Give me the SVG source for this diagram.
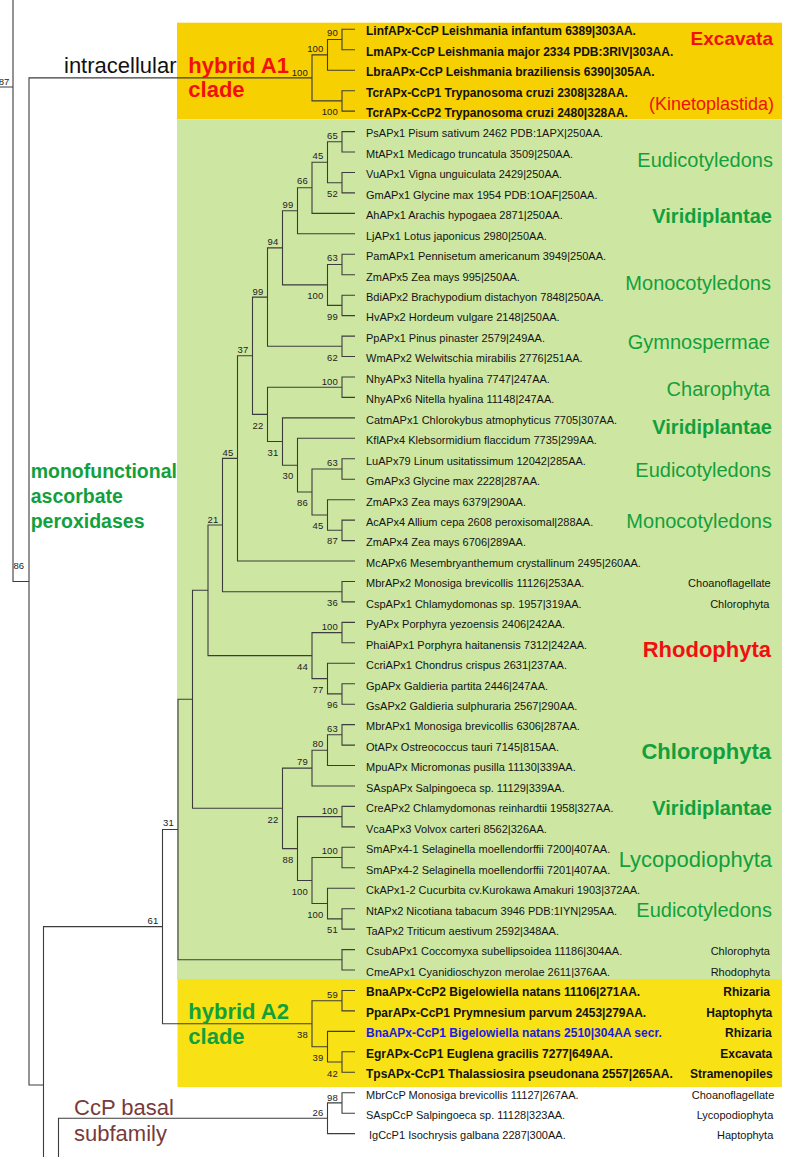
<svg xmlns="http://www.w3.org/2000/svg" width="787" height="1157" viewBox="0 0 787 1157">
<style>
text{font-family:"Liberation Sans",Arial,sans-serif}
.lf{font-size:11px;fill:#141414}
.lb{font-size:12px;font-weight:bold;fill:#111}
.bl{fill:#1a1ae6}
.bs{font-size:9.5px;text-anchor:end;fill:#222}
.rs{font-size:11px;text-anchor:end;fill:#141414}
.rb{font-size:12px;font-weight:bold;text-anchor:end;fill:#111}
.gn{fill:#12a03c;text-anchor:end;font-size:20px}
.gb{fill:#12a03c;text-anchor:end;font-size:20px;font-weight:bold}
.red{fill:#f20f0f}
.br{stroke:#3c3c3c;stroke-width:1.1;fill:none}
</style>
<rect width="787" height="1157" fill="#fff"/>
<g id="backgrounds">
<rect x="177" y="22.7" width="605" height="96.6" fill="#f6d000"/>
<rect x="177" y="119.3" width="605" height="859.7" fill="#cde7a2"/>
<rect x="177.5" y="979" width="604.5" height="108" fill="#f8e114"/>
</g>
<g id="connectors" class="br">
<path d="M355 29.3H342V49.8H355"/>
<path d="M342 39.5H327.5V70.2H355"/>
<path d="M355 90.7H342V111.1H355"/>
<path d="M327.5 54.9H312V100.9H342"/>
<path d="M355 131.6H342V152H355"/>
<path d="M355 172.5H342V192.9H355"/>
<path d="M342 141.8H327.5V182.7H342"/>
<path d="M327.5 162.2H312V213.4H355"/>
<path d="M312 187.8H297.5V233.8H355"/>
<path d="M355 254.3H342V274.7H355"/>
<path d="M355 295.2H342V315.6H355"/>
<path d="M342 264.5H327.5V305.4H342"/>
<path d="M297.5 210.8H282.5V284.9H327.5"/>
<path d="M355 336.1H342V356.5H355"/>
<path d="M282.5 247.9H267.5V346.3H342"/>
<path d="M355 377H342V397.4H355"/>
<path d="M355 458.8H342V479.2H355"/>
<path d="M355 520.1H342V540.6H355"/>
<path d="M355 499.7H327.5V530.3H342"/>
<path d="M342 469H312V515H327.5"/>
<path d="M355 438.3H297.5V492H312"/>
<path d="M355 417.9H282.5V465.2H297.5"/>
<path d="M342 387.2H267.5V441.5H282.5"/>
<path d="M267.5 297.1H252.5V414.4H267.5"/>
<path d="M252.5 355.7H237.5V561H355"/>
<path d="M355 581.5H342V601.9H355"/>
<path d="M237.5 458.4H222.5V591.7H342"/>
<path d="M355 622.4H342V642.8H355"/>
<path d="M355 683.7H342V704.2H355"/>
<path d="M355 663.3H327.5V693.9H342"/>
<path d="M342 632.6H312V678.6H327.5"/>
<path d="M222.5 525H208V655.6H312"/>
<path d="M355 724.6H342V745.1H355"/>
<path d="M342 734.8H327.5V765.5H355"/>
<path d="M327.5 750.2H312V786H355"/>
<path d="M355 806.4H342V826.9H355"/>
<path d="M355 847.3H342V867.8H355"/>
<path d="M355 908.7H342V929.1H355"/>
<path d="M355 888.2H327.5V918.9H342"/>
<path d="M342 857.5H312V903.5H327.5"/>
<path d="M342 816.6H297.5V880.5H312"/>
<path d="M312 768.1H282.5V848.6H297.5"/>
<path d="M208 590.3H192.5V808.3H282.5"/>
<path d="M355 949.6H342V970H355"/>
<path d="M192.5 699.3H178V959.8H342"/>
<path d="M355 990.5H342V1010.9H355"/>
<path d="M355 1051.8H342V1072.3H355"/>
<path d="M355 1031.4H327.5V1062H342"/>
<path d="M342 1000.7H312V1046.7H327.5"/>
<path d="M178 829.5H162.5V1023.7H312"/>
<path d="M162.5 926.6H43.5V1157"/>
<path d="M312 77.9H29V1085H43.5"/>
<path d="M0 87H13M13 0V581.5H29"/>
<path d="M355 1092.7H342V1113.2H355"/>
<path d="M342 1102.9H327.5V1133.6H355"/>
<path d="M327.5 1118.3H58.5V1157"/>
</g>
<g id="bootstrap">
<text class="bs" x="337.7" y="36.4">90</text>
<text class="bs" x="323.2" y="52.1">100</text>
<text class="bs" x="307.7" y="75.6">100</text>
<text class="bs" x="337.7" y="114.7">100</text>
<text class="bs" x="337.7" y="139.1">65</text>
<text class="bs" x="323.2" y="159.4">45</text>
<text class="bs" x="337.7" y="196.7">52</text>
<text class="bs" x="307.7" y="184.4">66</text>
<text class="bs" x="293.2" y="207.7">99</text>
<text class="bs" x="278.2" y="245.1">94</text>
<text class="bs" x="337.7" y="261.1">63</text>
<text class="bs" x="323.2" y="298.7">100</text>
<text class="bs" x="337.7" y="320.1">99</text>
<text class="bs" x="263.2" y="295.1">99</text>
<text class="bs" x="248.2" y="352.7">37</text>
<text class="bs" x="337.7" y="360.7">62</text>
<text class="bs" x="337.7" y="385.1">100</text>
<text class="bs" x="263.2" y="429.4">22</text>
<text class="bs" x="278.2" y="456.1">31</text>
<text class="bs" x="337.7" y="466.1">63</text>
<text class="bs" x="233.2" y="456.1">45</text>
<text class="bs" x="293.2" y="479.4">30</text>
<text class="bs" x="307.7" y="506.1">86</text>
<text class="bs" x="323.2" y="529.4">45</text>
<text class="bs" x="337.7" y="544.4">87</text>
<text class="bs" x="218.2" y="522.7">21</text>
<text class="bs" x="337.7" y="605.7">36</text>
<text class="bs" x="337.7" y="630.1">100</text>
<text class="bs" x="307.7" y="670.1">44</text>
<text class="bs" x="323.2" y="692.7">77</text>
<text class="bs" x="337.7" y="708.4">96</text>
<text class="bs" x="337.7" y="732.4">63</text>
<text class="bs" x="323.2" y="747.4">80</text>
<text class="bs" x="307.7" y="765.1">79</text>
<text class="bs" x="337.7" y="814.1">100</text>
<text class="bs" x="278.2" y="822.7">22</text>
<text class="bs" x="337.7" y="854.4">100</text>
<text class="bs" x="293.2" y="863.4">88</text>
<text class="bs" x="307.7" y="895.1">100</text>
<text class="bs" x="323.2" y="918.4">100</text>
<text class="bs" x="337.7" y="933.4">51</text>
<text class="bs" x="173.7" y="826.4">31</text>
<text class="bs" x="158.2" y="924.1">61</text>
<text class="bs" x="337.7" y="997.7">59</text>
<text class="bs" x="307.7" y="1038.4">38</text>
<text class="bs" x="323.2" y="1060.7">39</text>
<text class="bs" x="337.7" y="1076.7">42</text>
<text class="bs" x="337.7" y="1100.7">98</text>
<text class="bs" x="323.2" y="1115.7">26</text>
<text class="bs" x="9.3" y="85">87</text>
<text class="bs" x="24" y="569">86</text>
</g>
<g id="leaves">
<g id="leaf-LinfAPx"><text class="lb" x="366" y="35.1">LinfAPx-CcP Leishmania infantum 6389|303AA.</text></g>
<g id="leaf-LmAPx"><text class="lb" x="366" y="55.6">LmAPx-CcP Leishmania major 2334 PDB:3RIV|303AA.</text></g>
<g id="leaf-LbraAPx"><text class="lb" x="366" y="76">LbraAPx-CcP Leishmania braziliensis 6390|305AA.</text></g>
<g id="leaf-TcrAPx1"><text class="lb" x="366" y="96.5">TcrAPx-CcP1 Trypanosoma cruzi 2308|328AA.</text></g>
<g id="leaf-TcrAPx2"><text class="lb" x="366" y="116.9">TcrAPx-CcP2 Trypanosoma cruzi 2480|328AA.</text></g>
<g id="leaf-PsAPx1"><text class="lf" x="366" y="137.4">PsAPx1 Pisum sativum 2462 PDB:1APX|250AA.</text></g>
<g id="leaf-MtAPx1"><text class="lf" x="366" y="157.8">MtAPx1 Medicago truncatula 3509|250AA.</text></g>
<g id="leaf-VuAPx1"><text class="lf" x="366" y="178.3">VuAPx1 Vigna unguiculata 2429|250AA.</text></g>
<g id="leaf-GmAPx1"><text class="lf" x="366" y="198.7">GmAPx1 Glycine max 1954 PDB:1OAF|250AA.</text></g>
<g id="leaf-AhAPx1"><text class="lf" x="366" y="219.2">AhAPx1 Arachis hypogaea 2871|250AA.</text></g>
<g id="leaf-LjAPx1"><text class="lf" x="366" y="239.6">LjAPx1 Lotus japonicus 2980|250AA.</text></g>
<g id="leaf-PamAPx1"><text class="lf" x="366" y="260.1">PamAPx1 Pennisetum americanum 3949|250AA.</text></g>
<g id="leaf-ZmAPx5"><text class="lf" x="366" y="280.5">ZmAPx5 Zea mays 995|250AA.</text></g>
<g id="leaf-BdiAPx2"><text class="lf" x="366" y="301">BdiAPx2 Brachypodium distachyon 7848|250AA.</text></g>
<g id="leaf-HvAPx2"><text class="lf" x="366" y="321.4">HvAPx2 Hordeum vulgare 2148|250AA.</text></g>
<g id="leaf-PpAPx1"><text class="lf" x="366" y="341.9">PpAPx1 Pinus pinaster 2579|249AA.</text></g>
<g id="leaf-WmAPx2"><text class="lf" x="366" y="362.3">WmAPx2 Welwitschia mirabilis 2776|251AA.</text></g>
<g id="leaf-NhyAPx3"><text class="lf" x="366" y="382.8">NhyAPx3 Nitella hyalina 7747|247AA.</text></g>
<g id="leaf-NhyAPx6"><text class="lf" x="366" y="403.2">NhyAPx6 Nitella hyalina 11148|247AA.</text></g>
<g id="leaf-CatmAPx1"><text class="lf" x="366" y="423.7">CatmAPx1 Chlorokybus atmophyticus 7705|307AA.</text></g>
<g id="leaf-KflAPx4"><text class="lf" x="366" y="444.1">KflAPx4 Klebsormidium flaccidum 7735|299AA.</text></g>
<g id="leaf-LuAPx79"><text class="lf" x="366" y="464.6">LuAPx79 Linum usitatissimum 12042|285AA.</text></g>
<g id="leaf-GmAPx3"><text class="lf" x="366" y="485">GmAPx3 Glycine max 2228|287AA.</text></g>
<g id="leaf-ZmAPx3"><text class="lf" x="366" y="505.5">ZmAPx3 Zea mays 6379|290AA.</text></g>
<g id="leaf-AcAPx4"><text class="lf" x="366" y="525.9">AcAPx4 Allium cepa 2608 peroxisomal|288AA.</text></g>
<g id="leaf-ZmAPx4"><text class="lf" x="366" y="546.4">ZmAPx4 Zea mays 6706|289AA.</text></g>
<g id="leaf-McAPx6"><text class="lf" x="366" y="566.8">McAPx6 Mesembryanthemum crystallinum 2495|260AA.</text></g>
<g id="leaf-MbrAPx2"><text class="lf" x="366" y="587.3">MbrAPx2 Monosiga brevicollis 11126|253AA.</text><text class="rs" x="770.7" y="587.3">Choanoflagellate</text></g>
<g id="leaf-CspAPx1"><text class="lf" x="366" y="607.7">CspAPx1 Chlamydomonas sp. 1957|319AA.</text><text class="rs" x="769.5" y="607.7">Chlorophyta</text></g>
<g id="leaf-PyAPx"><text class="lf" x="366" y="628.2">PyAPx Porphyra yezoensis 2406|242AA.</text></g>
<g id="leaf-PhaiAPx1"><text class="lf" x="366" y="648.6">PhaiAPx1 Porphyra haitanensis 7312|242AA.</text></g>
<g id="leaf-CcriAPx1"><text class="lf" x="366" y="669.1">CcriAPx1 Chondrus crispus 2631|237AA.</text></g>
<g id="leaf-GpAPx"><text class="lf" x="366" y="689.5">GpAPx Galdieria partita 2446|247AA.</text></g>
<g id="leaf-GsAPx2"><text class="lf" x="366" y="710">GsAPx2 Galdieria sulphuraria 2567|290AA.</text></g>
<g id="leaf-MbrAPx1"><text class="lf" x="366" y="730.4">MbrAPx1 Monosiga brevicollis 6306|287AA.</text></g>
<g id="leaf-OtAPx"><text class="lf" x="366" y="750.9">OtAPx Ostreococcus tauri 7145|815AA.</text></g>
<g id="leaf-MpuAPx"><text class="lf" x="366" y="771.3">MpuAPx Micromonas pusilla 11130|339AA.</text></g>
<g id="leaf-SAspAPx"><text class="lf" x="366" y="791.8">SAspAPx Salpingoeca sp. 11129|339AA.</text></g>
<g id="leaf-CreAPx2"><text class="lf" x="366" y="812.2">CreAPx2 Chlamydomonas reinhardtii 1958|327AA.</text></g>
<g id="leaf-VcaAPx3"><text class="lf" x="366" y="832.7">VcaAPx3 Volvox carteri 8562|326AA.</text></g>
<g id="leaf-SmAPx4-1"><text class="lf" x="366" y="853.1">SmAPx4-1 Selaginella moellendorffii 7200|407AA.</text></g>
<g id="leaf-SmAPx4-2"><text class="lf" x="366" y="873.6">SmAPx4-2 Selaginella moellendorffii 7201|407AA.</text></g>
<g id="leaf-CkAPx1-2"><text class="lf" x="366" y="894">CkAPx1-2 Cucurbita cv.Kurokawa Amakuri 1903|372AA.</text></g>
<g id="leaf-NtAPx2"><text class="lf" x="366" y="914.5">NtAPx2 Nicotiana tabacum 3946 PDB:1IYN|295AA.</text></g>
<g id="leaf-TaAPx2"><text class="lf" x="366" y="934.9">TaAPx2 Triticum aestivum 2592|348AA.</text></g>
<g id="leaf-CsubAPx1"><text class="lf" x="366" y="955.4">CsubAPx1 Coccomyxa subellipsoidea 11186|304AA.</text><text class="rs" x="770" y="955.4">Chlorophyta</text></g>
<g id="leaf-CmeAPx1"><text class="lf" x="366" y="975.8">CmeAPx1 Cyanidioschyzon merolae 2611|376AA.</text><text class="rs" x="770" y="975.8">Rhodophyta</text></g>
<g id="leaf-BnaAPx-CcP2"><text class="lb" x="366" y="996.3">BnaAPx-CcP2 Bigelowiella natans 11106|271AA.</text><text class="rb" x="770" y="996.3">Rhizaria</text></g>
<g id="leaf-PparAPx-CcP1"><text class="lb" x="366" y="1016.7">PparAPx-CcP1 Prymnesium parvum 2453|279AA.</text><text class="rb" x="772.3" y="1016.7">Haptophyta</text></g>
<g id="leaf-BnaAPx-CcP1"><text class="lb bl" x="366" y="1037.2">BnaAPx-CcP1 Bigelowiella natans 2510|304AA secr.</text><text class="rb bl" x="771.7" y="1037.2">Rhizaria</text></g>
<g id="leaf-EgrAPx-CcP1"><text class="lb" x="366" y="1057.6">EgrAPx-CcP1 Euglena gracilis 7277|649AA.</text><text class="rb" x="772.3" y="1057.6">Excavata</text></g>
<g id="leaf-TpsAPx-CcP1"><text class="lb" x="366" y="1078.1">TpsAPx-CcP1 Thalassiosira pseudonana 2557|265AA.</text><text class="rb" x="772.7" y="1078.1">Stramenopiles</text></g>
<g id="leaf-MbrCcP"><text class="lf" x="366" y="1098.5">MbrCcP Monosiga brevicollis 11127|267AA.</text><text class="rs" x="774.3" y="1098.5">Choanoflagellate</text></g>
<g id="leaf-SAspCcP"><text class="lf" x="366" y="1119">SAspCcP Salpingoeca sp. 11128|323AA.</text><text class="rs" x="773.3" y="1119">Lycopodiophyta</text></g>
<g id="leaf-IgCcP1"><text class="lf" x="369" y="1139.4">IgCcP1 Isochrysis galbana 2287|300AA.</text><text class="rs" x="773.3" y="1139.4">Haptophyta</text></g>
</g>
<g id="taxa">
<text class="gb red" x="773" y="45" style="font-size:19px">Excavata</text>
<text class="gn red" x="774" y="110" style="font-size:18px">(Kinetoplastida)</text>
<text class="gn" x="773" y="167">Eudicotyledons</text>
<text class="gb" x="772" y="223.3">Viridiplantae</text>
<text class="gn" x="771" y="290">Monocotyledons</text>
<text class="gn" x="770" y="349.3">Gymnospermae</text>
<text class="gn" x="770" y="396">Charophyta</text>
<text class="gb" x="772" y="434.3">Viridiplantae</text>
<text class="gn" x="771" y="476.7">Eudicotyledons</text>
<text class="gn" x="772" y="528.3">Monocotyledons</text>
<text class="gb red" x="771" y="657.3" style="font-size:22px">Rhodophyta</text>
<text class="gb" x="771" y="759" style="font-size:22px">Chlorophyta</text>
<text class="gb" x="772" y="815">Viridiplantae</text>
<text class="gn" x="772" y="867.3" style="font-size:22px">Lycopodiophyta</text>
<text class="gn" x="772" y="917.3">Eudicotyledons</text>
</g>
<g id="clades">
<text x="64" y="72.7" style="font-size:22px;fill:#111">intracellular</text>
<text x="188.3" y="72.7" style="font-size:22px;font-weight:bold;fill:#f20f0f">hybrid A1<tspan x="188.3" y="96.7">clade</tspan></text>
<text x="30.7" y="478.3" style="font-size:19.5px;font-weight:bold;fill:#12a03c">monofunctional<tspan x="30.7" y="503.3">ascorbate</tspan><tspan x="30.7" y="528.3">peroxidases</tspan></text>
<text x="188.3" y="1019.3" style="font-size:22px;font-weight:bold;fill:#12a03c">hybrid A2<tspan x="188.3" y="1044">clade</tspan></text>
<text x="74" y="1115" style="font-size:22px;fill:#773b3b">CcP basal<tspan x="74" y="1140.7">subfamily</tspan></text>
</g>
</svg>
